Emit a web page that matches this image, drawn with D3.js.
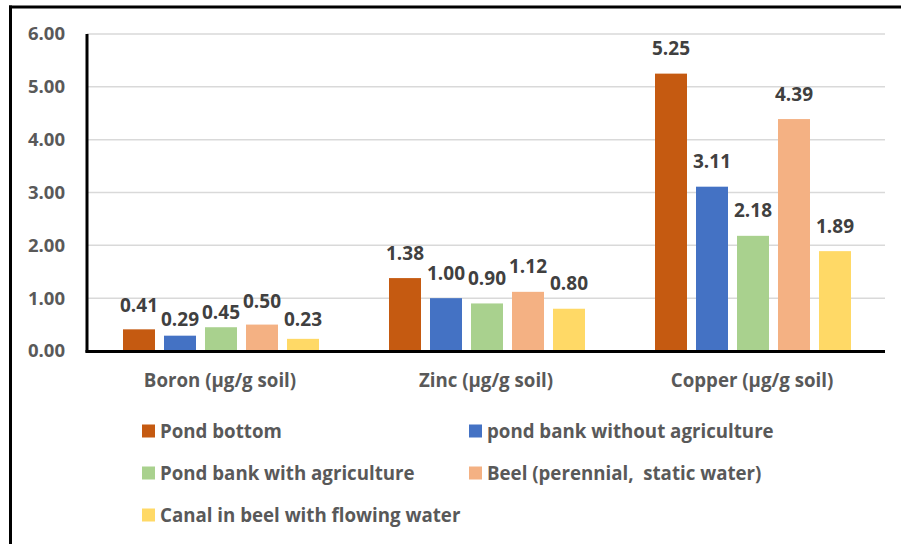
<!DOCTYPE html>
<html>
<head>
<meta charset="utf-8">
<script src="https://cdn.jsdelivr.net/npm/d3@7"></script>
<style>
  html, body { margin: 0; padding: 0; background: #ffffff; }
  svg { display: block; }
  text { font-family: "Open Sans", "Noto Sans", sans-serif; font-weight: 700; white-space: pre; }
</style>
</head>
<body>
<svg id="chart" width="901" height="544"></svg>
<script>
// Soil micronutrient concentrations by sampling site
const categories = ["Boron (µg/g soil)", "Zinc (µg/g soil)", "Copper (µg/g soil)"];
const seriesNames = [
  "Pond bottom",
  "pond bank without agriculture",
  "Pond bank with agriculture",
  "Beel (perennial,  static water)",
  "Canal in beel with flowing water"
];
const pondBottom   = [0.41, 1.38, 5.25];
const bankNoAgri   = [0.29, 1.00, 3.11];
const bankWithAgri = [0.45, 0.90, 2.18];
const beel         = [0.50, 1.12, 4.39];
const canal        = [0.23, 0.80, 1.89];
const yTicks = [0, 1, 2, 3, 4, 5, 6];

const seriesValues = [pondBottom, bankNoAgri, bankWithAgri, beel, canal];
const colors = ["#C55A11", "#4472C4", "#A9D18E", "#F4B183", "#FFD966"];
const FONT = "'Open Sans', 'Noto Sans', sans-serif";

const svg = d3.select("#chart");

// frame lines (top and left edges)
svg.append("line").attr("x1", 9).attr("x2", 901).attr("y1", 7).attr("y2", 7)
  .attr("stroke", "#000").attr("stroke-width", 3);
svg.append("line").attr("x1", 10.5).attr("x2", 10.5).attr("y1", 5.5).attr("y2", 544)
  .attr("stroke", "#000").attr("stroke-width", 3);

const plot = { left: 87, right: 885, top: 34, bottom: 351 };

const y = d3.scaleLinear().domain([0, 6]).range([plot.bottom, plot.top]);
const x0 = d3.scaleBand().domain(categories).range([plot.left, plot.right]).padding(0);
const x1 = d3.scaleBand().domain(d3.range(seriesNames.length))
  .range([36, 232]).paddingInner(9 / 41).paddingOuter(0);

// gridlines
svg.append("g").selectAll("line").data(yTicks.filter(t => t > 0)).join("line")
  .attr("x1", plot.left).attr("x2", plot.right)
  .attr("y1", d => y(d)).attr("y2", d => y(d))
  .attr("stroke", "#d9d9d9").attr("stroke-width", 1.5);

// y axis tick labels
const yAxis = d3.axisLeft(y).tickValues(yTicks).tickFormat(d3.format(".2f")).tickSize(0).tickPadding(22);
const gy = svg.append("g").attr("transform", `translate(${plot.left},0)`).call(yAxis);
gy.select(".domain").remove();
gy.selectAll("text").attr("fill", "#595959").style("font-size", "18.5px")
  .style("font-family", FONT).style("font-weight", 700);

// bars
const groups = svg.append("g").selectAll("g").data(categories).join("g")
  .attr("transform", d => `translate(${x0(d)},0)`);

groups.selectAll("rect")
  .data((c, ci) => seriesValues.map((vals, si) => ({ si, v: vals[ci], ci })))
  .join("rect")
  .attr("x", d => x1(d.si))
  .attr("width", x1.bandwidth())
  .attr("y", d => y(d.v))
  .attr("height", d => y(0) - y(d.v))
  .attr("fill", d => colors[d.si]);

// value labels; crowded small bars get their labels pulled closer
const labelGap = (d) => {
  if (d.ci === 0) return [24, 16, 15, 23, 19][d.si];
  return 25;
};
groups.selectAll("text.val")
  .data((c, ci) => seriesValues.map((vals, si) => ({ si, v: vals[ci], ci })))
  .join("text")
  .attr("class", "val")
  .attr("x", d => x1(d.si) + x1.bandwidth() / 2)
  .attr("y", d => y(d.v) - labelGap(d))
  .attr("dy", "0.35em")
  .attr("text-anchor", "middle")
  .attr("fill", "#404040")
  .style("font-size", "19px")
  .text(d => d3.format(".2f")(d.v));

// axes lines
svg.append("line").attr("x1", plot.left).attr("x2", plot.left)
  .attr("y1", plot.top).attr("y2", plot.bottom + 1.5)
  .attr("stroke", "#000").attr("stroke-width", 3);
svg.append("line").attr("x1", plot.left - 1.5).attr("x2", plot.right)
  .attr("y1", plot.bottom + 0.5).attr("y2", plot.bottom + 0.5)
  .attr("stroke", "#000").attr("stroke-width", 3);

// category labels
const xAxis = d3.axisBottom(x0).tickSize(0).tickPadding(23);
const gx = svg.append("g").attr("transform", `translate(0,${plot.bottom})`).call(xAxis);
gx.select(".domain").remove();
gx.selectAll("text").attr("fill", "#595959").style("font-size", "18.7px")
  .style("font-family", FONT).style("font-weight", 700);

// legend
const legendPos = [
  [142, 431], [469, 431],
  [142, 473], [469, 473],
  [142, 515]
];
const legend = svg.append("g").selectAll("g").data(seriesNames).join("g")
  .attr("transform", (d, i) => `translate(${legendPos[i][0]},${legendPos[i][1]})`);
legend.append("rect").attr("x", 0).attr("y", -6.5).attr("width", 13).attr("height", 13)
  .attr("fill", (d, i) => colors[i]);
legend.append("text").attr("x", 18).attr("dy", "0.35em")
  .attr("fill", "#595959").style("font-size", "18.7px").text(d => d);
</script>
</body>
</html>
